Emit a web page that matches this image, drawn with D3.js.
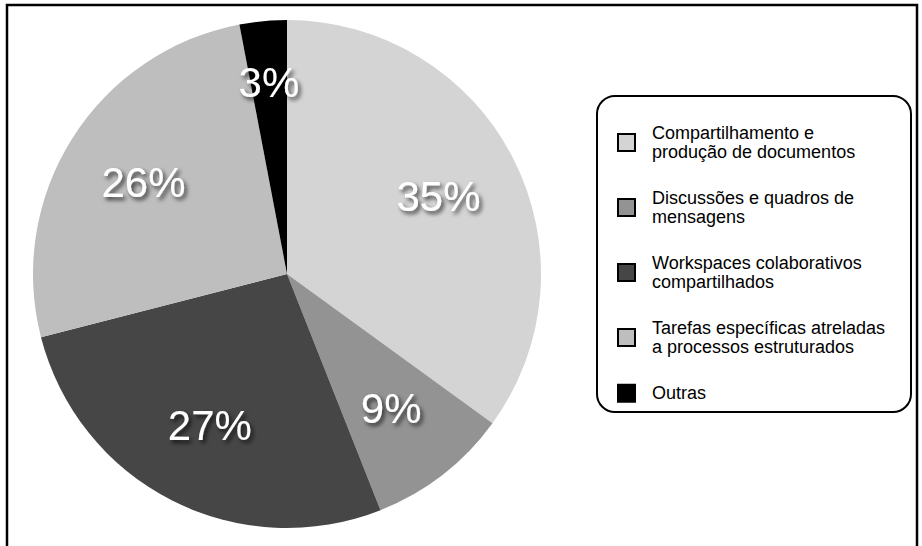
<!DOCTYPE html>
<html>
<head>
<meta charset="utf-8">
<script src="https://cdn.jsdelivr.net/npm/d3@7"></script>
<style>
  body { margin: 0; background: #fff; }
  svg { display: block; font-family: "Liberation Sans", Helvetica, Arial, sans-serif; }
</style>
</head>
<body>
<svg id="pie_chart" width="922" height="546"></svg>
<script>
// slice data, clockwise from 12 o'clock
const categories = [
  ['Compartilhamento e', 'produção de documentos'],
  ['Discussões e quadros de', 'mensagens'],
  ['Workspaces colaborativos', 'compartilhados'],
  ['Tarefas específicas atreladas', 'a processos estruturados'],
  ['Outras']
]
const values = [35, 9, 27, 26, 3]
const colors = ['#d4d4d4', '#939393', '#464646', '#bebebe', '#000000']

const svg = d3.select('#pie_chart')
const width = +svg.attr('width')
const height = +svg.attr('height')

// drop shadow for the percent labels
const defs = svg.append('defs')
defs.append('filter')
  .attr('id', 'shadow')
  .attr('x', '-20%').attr('y', '-20%')
  .attr('width', '150%').attr('height', '160%')
  .append('feDropShadow')
  .attr('dx', 2.5).attr('dy', 3)
  .attr('stdDeviation', 2.2)
  .attr('flood-color', '#000')
  .attr('flood-opacity', 0.7)

// outer frame (bottom edge runs off the picture)
svg.append('rect')
  .attr('x', 7).attr('y', 5)
  .attr('width', 910).attr('height', height + 20)
  .attr('fill', 'none')
  .attr('stroke', '#000')
  .attr('stroke-width', 2.5)

const cx = 287, cy = 274, radius = 254

const color = d3.scaleOrdinal().domain(d3.range(values.length)).range(colors)

const pie = d3.pie().sort(null).value((d) => d)
const arcs = pie(values)

const arc = d3.arc().innerRadius(0).outerRadius(radius)
const labelArc = d3.arc().innerRadius(170).outerRadius(170)
// thin slices get their label pushed further out
const outerLabelArc = d3.arc().innerRadius(192).outerRadius(192)

const g = svg.append('g').attr('transform', `translate(${cx},${cy})`)

g.selectAll('path')
  .data(arcs)
  .join('path')
  .attr('d', arc)
  .attr('fill', (d, i) => color(i))

g.selectAll('text')
  .data(arcs)
  .join('text')
  .attr('transform', (d) => {
    const a = d.endAngle - d.startAngle < 0.3 ? outerLabelArc : labelArc
    return `translate(${a.centroid(d)})`
  })
  .attr('text-anchor', 'middle')
  .attr('dominant-baseline', 'central')
  .attr('font-size', 42)
  .attr('fill', '#fff')
  .attr('filter', 'url(#shadow)')
  .text((d) => d.data + '%')

// legend
const legend = svg.append('g')
legend.append('rect')
  .attr('x', 597).attr('y', 96)
  .attr('width', 314).attr('height', 316)
  .attr('rx', 18).attr('ry', 18)
  .attr('fill', '#fff')
  .attr('stroke', '#000')
  .attr('stroke-width', 2)

const lineH = 18.5
const gap = 28
let yCursor = 124
categories.forEach((lines, i) => {
  const blockH = lines.length * lineH
  const mid = yCursor + blockH / 2
  legend.append('rect')
    .attr('x', 618).attr('y', mid - 8.5)
    .attr('width', 17).attr('height', 17)
    .attr('fill', color(i))
    .attr('stroke', '#000')
    .attr('stroke-width', 2)
  const t = legend.append('text')
    .attr('font-size', 18)
    .attr('fill', '#000')
  lines.forEach((line, j) => {
    t.append('tspan')
      .attr('x', 652)
      .attr('y', mid + (j - (lines.length - 1) / 2) * lineH)
      .attr('dominant-baseline', 'central')
      .text(line)
  })
  yCursor += blockH + gap
})
</script>
</body>
</html>
